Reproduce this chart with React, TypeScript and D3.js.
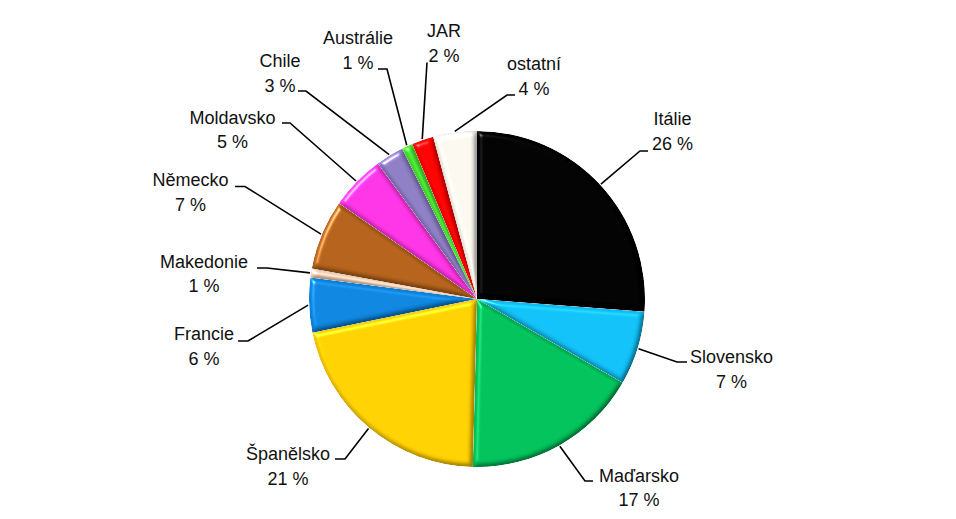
import { useMemo } from 'react';
import * as d3 from 'd3';

// slice shares (percent of the whole)
const countries = ['Itálie', 'Slovensko', 'Maďarsko', 'Španělsko', 'Francie', 'Makedonie', 'Německo', 'Moldavsko', 'Chile', 'Austrálie', 'JAR', 'ostatní'];
const shares = [26.2, 7.1, 17.1, 21.4, 5.25, 0.86, 6.75, 5.3, 2.7, 1.05, 2.1, 4.2];
const percentLabels = ['26 %', '7 %', '17 %', '21 %', '6 %', '1 %', '7 %', '5 %', '3 %', '1 %', '2 %', '4 %'];
const colors = ['#000000', '#10bff5', '#00c05a', '#ffcf00', '#0d84dd', '#fbd9c0', '#b3611a', '#ff33e4', '#8c7cc2', '#48e832', '#ff0000', '#f7f5ec'];

// label layout: [text centre x, first baseline, anchor x, anchor y, stub length]
const labelLayout: [number, number, number, number, number][] = [
  [672.5, 125, 648, 151, -8],
  [731.5, 363, 687, 362, -10],
  [639, 481.5, 593, 481, -8],
  [288, 460, 335, 459, 10],
  [204, 340, 238, 341, 10],
  [204, 267.5, 257, 268, 10],
  [190.5, 186, 235, 186.5, 10],
  [232.5, 123.5, 282, 123, 8],
  [280, 67, 298, 91, 8],
  [358, 44, 378, 69, 9],
  [444, 37, 427, 62.5, 0],
  [534, 70, 515, 95, -8],
];

const width = 956;
const height = 519;
const cx = 477;
const cy = 299;
const radius = 168;
const lineGap = 24.5;

export default function App(): JSX.Element {
  const arcs = useMemo(() => d3.pie<number>().sort(null).value((d) => d)(shares), []);
  const arc = d3.arc<d3.PieArcDatum<number>>().innerRadius(0).outerRadius(radius);

  return (
    <svg
      width={width}
      height={height}
      viewBox={`0 0 ${width} ${height}`}
      style={{ position: 'absolute', left: 0, top: 0, background: '#fff' }}
      fontFamily="'Liberation Sans', Arial, sans-serif"
      fontSize={18}
    >
      <defs>
        <filter id="bevel" x="-10%" y="-10%" width="120%" height="120%" colorInterpolationFilters="sRGB">
          <feGaussianBlur in="SourceAlpha" stdDeviation="2.5" result="blur" />
          <feSpecularLighting in="blur" surfaceScale="4" specularConstant="0.8" specularExponent="30" lightingColor="#ffffff" result="spec">
            <feDistantLight azimuth={225} elevation={35} />
          </feSpecularLighting>
          <feComposite in="spec" in2="SourceAlpha" operator="in" result="specIn" />
          <feDiffuseLighting in="blur" surfaceScale="4" diffuseConstant="1" lightingColor="#ffffff" result="diff">
            <feDistantLight azimuth={225} elevation={60} />
          </feDiffuseLighting>
          <feComposite in="SourceGraphic" in2="diff" operator="arithmetic" k1="0.6" k2="0.48" k3="0" k4="0" result="shaded" />
          <feComposite in="shaded" in2="specIn" operator="arithmetic" k1="0" k2="1" k3="0.7" k4="0" result="lit" />
          <feComposite in="lit" in2="SourceAlpha" operator="in" />
        </filter>
      </defs>

      <g transform={`translate(${cx},${cy})`}>
        {arcs.map((a, i) => (
          <path key={countries[i]} d={arc(a) ?? ''} fill={colors[i]} filter="url(#bevel)" />
        ))}
      </g>

      {arcs.map((a, i) => {
        const [tx, ty, ax, ay, stub] = labelLayout[i];
        const mid = (a.startAngle + a.endAngle) / 2;
        const rx = cx + Math.sin(mid) * (radius + 1);
        const ry = cy - Math.cos(mid) * (radius + 1);
        const pts: [number, number][] = [[ax, ay], [ax + stub, ay], [rx, ry]];
        return (
          <g key={`lab-${countries[i]}`}>
            <path d={d3.line()(pts) ?? ''} fill="none" stroke="#000" strokeWidth={1.6} />
            <text x={tx} y={ty} textAnchor="middle" fill="#111">
              <tspan x={tx} y={ty}>{countries[i]}</tspan>
              <tspan x={tx} y={ty + lineGap}>{percentLabels[i]}</tspan>
            </text>
          </g>
        );
      })}
    </svg>
  );
}
